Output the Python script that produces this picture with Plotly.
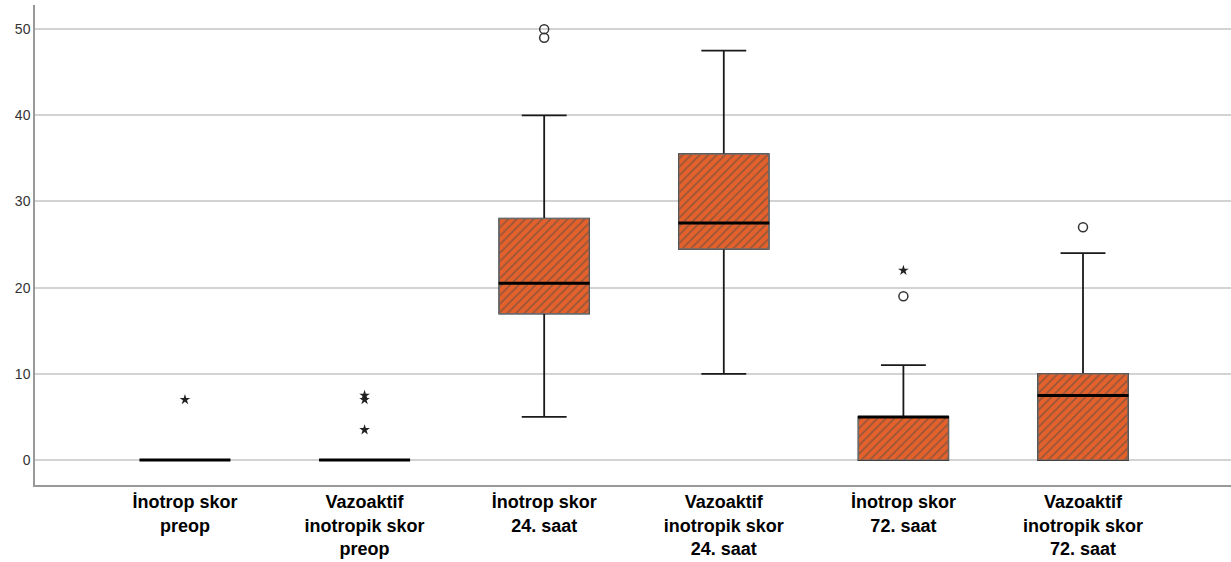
import plotly.graph_objects as go

categories = ["İnotrop skor<br>preop", "Vazoaktif<br>inotropik skor<br>preop", "İnotrop skor<br>24. saat",
              "Vazoaktif<br>inotropik skor<br>24. saat", "İnotrop skor<br>72. saat",
              "Vazoaktif<br>inotropik skor<br>72. saat"]
q1 = [0, 0, 17, 24.5, 0, 0]
median = [0, 0, 20.5, 27.5, 5, 7.5]
q3 = [0, 0, 28, 35.5, 5, 10]
lower = [0, 0, 5, 10, 0, 0]
upper = [0, 0, 40, 47.5, 11, 24]

circle_cat = [categories[2], categories[2], categories[4], categories[5]]
circle_val = [49, 50, 19, 27]
star_cat = [categories[0], categories[1], categories[1], categories[1], categories[4]]
star_val = [7, 7.5, 7, 3.5, 22]

fig = go.Figure()

# whiskers (underneath)
fig.add_trace(go.Box(
    x=categories, q1=q1, median=median, q3=q3, lowerfence=lower, upperfence=upper,
    width=0.5, whiskerwidth=0.5, fillcolor="rgba(0,0,0,0)",
    line=dict(color="#1a1a1a", width=1.8), boxpoints=False, showlegend=False,
    hoverinfo="skip", xaxis="x", yaxis="y"))

# hatched box bodies
fig.add_trace(go.Bar(
    x=categories, y=[b - a for a, b in zip(q1, q3)], base=q1, width=0.5,
    marker=dict(color="#E4612B", line=dict(color="#6a6a6a", width=1.2),
                pattern=dict(shape="/", fgcolor="#4a4a4a", size=6, solidity=0.3, fillmode="overlay")),
    showlegend=False, xaxis="x2", yaxis="y2"))

# medians
fig.add_trace(go.Scatter(
    x=categories, y=median, mode="markers",
    marker=dict(symbol="line-ew", size=65, line=dict(color="black", width=3)),
    showlegend=False, xaxis="x2", yaxis="y2"))

# outliers
fig.add_trace(go.Scatter(
    x=circle_cat, y=circle_val, mode="markers",
    marker=dict(symbol="circle-open", size=9, line=dict(color="#333", width=1.5), color="#333"),
    showlegend=False, xaxis="x2", yaxis="y2"))
fig.add_trace(go.Scatter(
    x=star_cat, y=star_val, mode="markers",
    marker=dict(symbol="star", size=8, color="#222", line=dict(width=0)),
    showlegend=False, xaxis="x2", yaxis="y2"))

xr = [-0.835, 5.824]
yr = [-2.9, 52.8]
fig.update_layout(
    width=1231, height=562, margin=dict(l=35, r=0, t=5, b=77),
    plot_bgcolor="white", paper_bgcolor="white", showlegend=False,
    xaxis=dict(type="category", categoryorder="array", categoryarray=categories, range=xr,
               showgrid=False, showline=True, linecolor="#999", linewidth=1.5, ticks="",
               automargin=False,
               tickfont=dict(family="Liberation Sans, Arial", size=18, color="black"),
               tickprefix="<b>", ticksuffix="</b>", zeroline=False),
    yaxis=dict(range=yr, tickvals=[0, 10, 20, 30, 40, 50], showgrid=True, gridcolor="#d3d3d3",
               gridwidth=1.5, showline=True, linecolor="#999", linewidth=1.5, ticks="",
               automargin=False,
               tickfont=dict(family="Liberation Sans, Arial", size=14, color="#333"), zeroline=False),
    xaxis2=dict(type="category", categoryorder="array", categoryarray=categories, range=xr,
                overlaying="x", visible=False),
    yaxis2=dict(range=yr, overlaying="y", visible=False),
)

fig.write_html("out.html")
